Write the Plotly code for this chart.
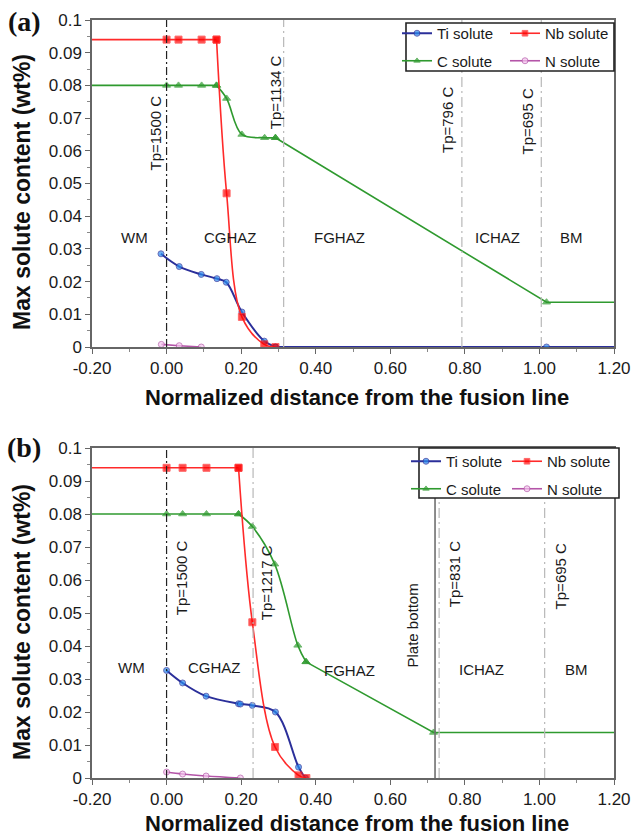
import plotly.graph_objects as go

# ---------------- data: panel (a) ----------------
ti_a_x = [-0.015, 0.034, 0.093, 0.135, 0.160, 0.202, 0.262, 0.292, 1.019, 1.20]
ti_a_y = [0.0285, 0.0246, 0.0222, 0.0209, 0.0198, 0.0107, 0.0018, 0.0, 0.0, 0.0]
nb_a_x = [-0.20, 0.0, 0.032, 0.094, 0.134, 0.161, 0.202, 0.262, 0.292]
nb_a_y = [0.094, 0.094, 0.094, 0.094, 0.094, 0.047, 0.0092, 0.0008, 0.0]
c_a_x = [-0.20, 0.0, 0.032, 0.094, 0.134, 0.161, 0.202, 0.263, 0.292, 1.019, 1.20]
c_a_y = [0.080, 0.080, 0.080, 0.080, 0.080, 0.076, 0.065, 0.064, 0.064, 0.0137, 0.0137]
n_a_x = [-0.014, 0.034, 0.093]
n_a_y = [0.0008, 0.0004, 0.0]

# ---------------- data: panel (b) ----------------
ti_b_x = [0.0, 0.043, 0.106, 0.193, 0.198, 0.230, 0.292, 0.354, 0.372]
ti_b_y = [0.0326, 0.0288, 0.0248, 0.0225, 0.0224, 0.0220, 0.0200, 0.0033, 0.0]
nb_b_x = [-0.20, 0.0, 0.043, 0.107, 0.193, 0.230, 0.291, 0.354, 0.375]
nb_b_y = [0.094, 0.094, 0.094, 0.094, 0.094, 0.0472, 0.0094, 0.0008, 0.0]
c_b_x = [-0.20, 0.0, 0.043, 0.107, 0.193, 0.230, 0.290, 0.352, 0.374, 0.716, 1.20]
c_b_y = [0.080, 0.080, 0.080, 0.080, 0.080, 0.0762, 0.0648, 0.0402, 0.0352, 0.0138, 0.0138]
n_b_x = [0.0, 0.043, 0.106, 0.198]
n_b_y = [0.0018, 0.0012, 0.0006, 0.0]

# peak-temperature lines and labels
tp_a_x = [0.0, 0.314, 0.792, 1.005]
tp_a_labels = ["Tp=1500 C", "Tp=1134 C", "Tp=796 C", "Tp=695 C"]
tp_a_label_x = [-0.030, 0.294, 0.752, 0.968]
tp_a_label_y = [0.0654, 0.0780, 0.0694, 0.0688]

tp_b_x = [0.0, 0.232, 0.731, 1.014]
tp_b_labels = ["Tp=1500 C", "Tp=1217 C", "Tp=831 C", "Tp=695 C"]
tp_b_label_x = [0.040, 0.268, 0.772, 1.057]
tp_b_label_y = [0.0607, 0.0592, 0.0619, 0.0610]
plate_bottom_x = 0.72

zones = ["WM", "CGHAZ", "FGHAZ", "ICHAZ", "BM"]
zones_a_x = [-0.086, 0.172, 0.464, 0.887, 1.086]
zones_a_y = [0.0336, 0.0336, 0.0336, 0.0336, 0.0336]
zones_b_x = [-0.095, 0.129, 0.490, 0.844, 1.100]
zones_b_y = [0.0336, 0.0336, 0.0326, 0.0328, 0.0328]

x_tick_vals = [-0.2, 0.0, 0.2, 0.4, 0.6, 0.8, 1.0, 1.2]
x_tick_text = ["-0.20", "0.00", "0.20", "0.40", "0.60", "0.80", "1.00", "1.20"]
y_tick_vals = [0, 0.01, 0.02, 0.03, 0.04, 0.05, 0.06, 0.07, 0.08, 0.09, 0.1]
y_tick_text = ["0", "0.01", "0.02", "0.03", "0.04", "0.05", "0.06", "0.07", "0.08", "0.09", "0.1"]

W, H = 632, 838
FONT = "Liberation Sans, Arial, sans-serif"

def px(v):
    return v / W

def py(v):
    return 1 - v / H

TI = dict(line="#2b2f9a", fill="#2a8cf0")
NB = dict(line="#ff2a2a", fill="#ff0000")
C_ = dict(line="#2f9a2f", fill="#2f9a2f")
N_ = dict(line="#b455a8", fill="#f4c4ee")

fig = go.Figure()

def add(xs, ys, name, col, symbol, size, xa, ya, legend, group, pieces, lw=1.6):
    """pieces: list of (start, end, shape) index ranges (inclusive) drawn as separate segments."""
    for k, (i0, i1, shp) in enumerate(pieces):
        sx = xs[i0:i1 + 1]
        sy = ys[i0:i1 + 1]
        msize = [0 if (v <= -0.2 or v >= 1.2) else size for v in sx]
        fig.add_trace(go.Scatter(
            x=sx, y=sy, name=name, mode="lines+markers",
            line=dict(color=col["line"], width=lw, shape=shp, smoothing=1.0),
            marker=dict(symbol=symbol, size=msize, color=col["fill"],
                        line=dict(color=col["line"], width=1)),
            xaxis=xa, yaxis=ya, legend=legend, legendgroup=group, showlegend=(k == 0),
        ))

# panel (a)
add(ti_a_x, ti_a_y, "Ti solute", TI, "circle", 6, "x", "y", "legend", "a1",
    [(0, 7, "spline"), (7, 9, "linear")], lw=2)
add(c_a_x, c_a_y, "C solute", C_, "triangle-up", 7, "x", "y", "legend", "a2",
    [(0, 4, "linear"), (4, 8, "spline"), (8, 10, "linear")])
add(nb_a_x, nb_a_y, "Nb solute", NB, "square", 7, "x", "y", "legend2", "a3",
    [(0, 4, "linear"), (4, 8, "spline")])
add(n_a_x, n_a_y, "N solute", N_, "circle", 6, "x", "y", "legend2", "a4",
    [(0, 2, "spline")])
# panel (b)
add(ti_b_x, ti_b_y, "Ti solute", TI, "circle", 6, "x2", "y2", "legend3", "b1",
    [(0, 8, "spline")], lw=2)
add(c_b_x, c_b_y, "C solute", C_, "triangle-up", 7, "x2", "y2", "legend3", "b2",
    [(0, 4, "linear"), (4, 8, "spline"), (8, 10, "linear")])
add(nb_b_x, nb_b_y, "Nb solute", NB, "square", 7, "x2", "y2", "legend4", "b3",
    [(0, 4, "linear"), (4, 8, "spline")])
add(n_b_x, n_b_y, "N solute", N_, "circle", 6, "x2", "y2", "legend4", "b4",
    [(0, 3, "spline")])

shapes = []
annotations = []

def vlines(xs, xref, yref):
    for i, xv in enumerate(xs):
        shapes.append(dict(type="line", xref=xref, yref=yref + " domain", x0=xv, x1=xv, y0=0, y1=1,
                           line=dict(color="#222222" if i == 0 else "#b8b8b8", width=1.2,
                                     dash="8px,3px,2px,3px" if i == 0 else "10px,4px,2px,4px"),
                           layer="above"))

vlines(tp_a_x, "x", "y")
vlines(tp_b_x, "x2", "y2")
shapes.append(dict(type="line", xref="x2", yref="y2 domain", x0=plate_bottom_x, x1=plate_bottom_x,
                   y0=0, y1=1, line=dict(color="#707070", width=1.6), layer="above"))

# legend frames
shapes.append(dict(type="rect", xref="paper", yref="paper", x0=px(406), x1=px(614), y0=py(71), y1=py(23),
                   line=dict(color="#222222", width=1.6), fillcolor="white", layer="above"))
shapes.append(dict(type="rect", xref="paper", yref="paper", x0=px(419), x1=px(619), y0=py(498), y1=py(448),
                   line=dict(color="#222222", width=1.6), fillcolor="white", layer="above"))

txt = dict(family=FONT, size=15, color="#1a1a1a")
C = dict(xanchor="center", yanchor="middle", showarrow=False)

for t, xv, yv in zip(tp_a_labels, tp_a_label_x, tp_a_label_y):
    annotations.append(dict(text=t, x=xv, y=yv, xref="x", yref="y", textangle=-90, font=txt, **C))
for t, xv, yv in zip(tp_b_labels, tp_b_label_x, tp_b_label_y):
    annotations.append(dict(text=t, x=xv, y=yv, xref="x2", yref="y2", textangle=-90, font=txt, **C))
annotations.append(dict(text="Plate bottom", x=0.66, y=0.0461, xref="x2", yref="y2", textangle=-90,
                        font=txt, **C))
for t, xv, yv in zip(zones, zones_a_x, zones_a_y):
    annotations.append(dict(text=t, x=xv, y=yv, xref="x", yref="y", font=txt, **C))
for t, xv, yv in zip(zones, zones_b_x, zones_b_y):
    annotations.append(dict(text=t, x=xv, y=yv, xref="x2", yref="y2", font=txt, **C))

xtitle_font = dict(family=FONT, size=22, color="#111111")
ytitle_font = dict(family=FONT, size=23, color="#111111")
for yc in (397, 823):
    annotations.append(dict(text="<b>Normalized distance from the fusion line</b>", x=px(357), y=py(yc),
                            xref="paper", yref="paper", font=xtitle_font, **C))
for yc in (192, 622):
    annotations.append(dict(text="<b>Max solute content (wt%)</b>", x=px(22), y=py(yc), xref="paper",
                            yref="paper", textangle=-90, font=ytitle_font, **C))
panel_font = dict(family="Liberation Serif, Times New Roman, serif", size=28, color="#111111")
annotations.append(dict(text="<b>(a)</b>", x=px(24), y=py(22), xref="paper", yref="paper",
                        font=panel_font, **C))
annotations.append(dict(text="<b>(b)</b>", x=px(24), y=py(447), xref="paper", yref="paper",
                        font=panel_font, **C))

tick_font = dict(family=FONT, size=17, color="#1a1a1a")
xdom = [px(92), px(614)]

def xaxis(anchor):
    return dict(domain=xdom, range=[-0.2, 1.2], anchor=anchor, tickmode="array",
                tickvals=x_tick_vals, ticktext=x_tick_text, showline=True, linecolor="#666666",
                linewidth=1.5, mirror=True, ticks="outside", ticklen=5, tickcolor="#666666",
                minor=dict(ticks="outside", ticklen=3, tickcolor="#888888", tick0=-0.2, dtick=0.1),
                showgrid=False, zeroline=False, tickfont=tick_font, automargin=False)

def yaxis(anchor, dom):
    return dict(domain=dom, range=[0, 0.1], anchor=anchor, tickmode="array",
                tickvals=y_tick_vals, ticktext=y_tick_text, showline=True, linecolor="#666666",
                linewidth=1.5, mirror=True, ticks="outside", ticklen=5, tickcolor="#666666",
                minor=dict(ticks="outside", ticklen=3, tickcolor="#888888", tick0=0, dtick=0.005),
                showgrid=False, zeroline=False, tickfont=tick_font, automargin=False)

leg_font = dict(family=FONT, size=15, color="#1a1a1a")

def legend(xl, yt):
    return dict(x=px(xl), y=py(yt), xanchor="left", yanchor="top", bgcolor="rgba(0,0,0,0)",
                borderwidth=0, font=leg_font, tracegroupgap=5, itemwidth=30)

fig.update_layout(
    width=W, height=H, margin=dict(l=0, r=0, t=0, b=0, autoexpand=False),
    paper_bgcolor="white", plot_bgcolor="white",
    xaxis=xaxis("y"), yaxis=yaxis("x", [py(347), py(20)]),
    xaxis2=xaxis("y2"), yaxis2=yaxis("x2", [py(778), py(448)]),
    legend=legend(397, 17), legend2=legend(505, 17),
    legend3=legend(406, 445), legend4=legend(507, 445),
    shapes=shapes, annotations=annotations, showlegend=True,
)

fig.write_html("out.html", post_script="document.body.style.margin='0';",
               config={"displayModeBar": False})
